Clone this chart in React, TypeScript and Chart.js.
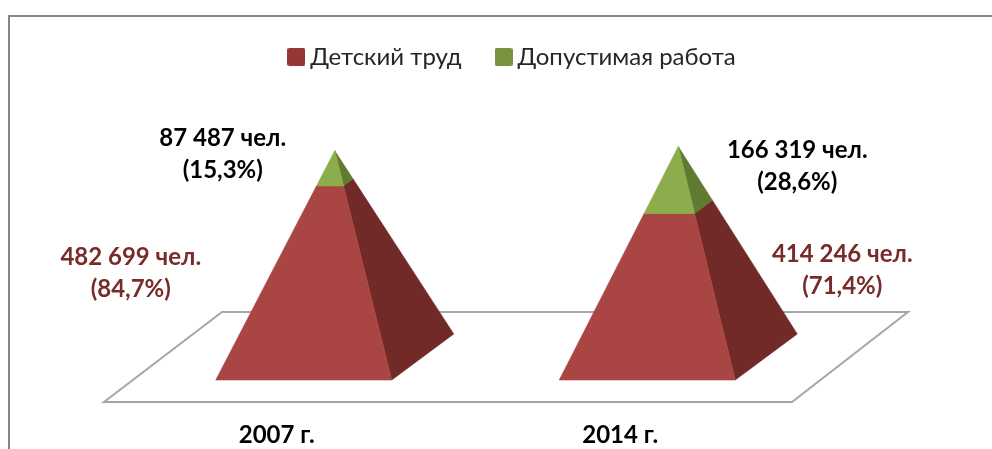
import React, { useEffect, useRef } from "react";
import { Chart, registerables } from "chart.js";

Chart.register(...registerables);

const categories = ["2007 г.", "2014 г."];
const childLabour = [482699, 414246];
const permittedWork = [87487, 166319];
const childLabourShare = ["84,7%", "71,4%"];
const permittedWorkShare = ["15,3%", "28,6%"];
const seriesNames = ["Детский труд", "Допустимая работа"];

const FONT = "Lato, 'Open Sans', sans-serif";
const legendColors = ["#953735", "#77933C"];
const frontColors = ["#A94543", "#8BAD4C"];
const sideColors = ["#722A28", "#5F7A31"];
const labelColors = ["#772C2A", "#000000"];
const fmt = (n: number) => String(n).replace(/\B(?=(\d{3})+$)/g, " ") + " чел.";

// label centres relative to the category centre and the top of the stack
const labelOffsets = [
  [[-146, 107], [-54, -12]],
  [[222, 108], [177, 4]],
];

const swatch = (color: string) => {
  const c = document.createElement("canvas");
  c.width = 18;
  c.height = 18;
  const g = c.getContext("2d")!;
  g.fillStyle = color;
  g.beginPath();
  g.roundRect(0, 0, 18, 18, 2);
  g.fill();
  return c;
};

const pyramidPlugin = {
  id: "pyramids",
  beforeDraw(chart: any) {
    const { ctx } = chart;
    ctx.save();
    ctx.strokeStyle = "#868686";
    ctx.lineWidth = 2;
    ctx.beginPath();
    ctx.moveTo(9, chart.height);
    ctx.lineTo(9, 16);
    ctx.lineTo(chart.width, 16);
    ctx.stroke();
    ctx.restore();
  },
  beforeDatasetsDraw(chart: any) {
    const { ctx, chartArea: a } = chart;
    ctx.save();
    ctx.strokeStyle = "#A6A6A6";
    ctx.lineWidth = 2;
    ctx.lineJoin = "miter";
    ctx.beginPath();
    ctx.moveTo(a.left - 1, a.bottom + 22);
    ctx.lineTo(a.right, a.bottom + 22);
    ctx.lineTo(a.right + 116, a.bottom - 68);
    ctx.lineTo(a.left + 117, a.bottom - 68);
    ctx.closePath();
    ctx.stroke();
    ctx.restore();
  },
  beforeDatasetDraw() {
    return false;
  },
  afterDatasetsDraw(chart: any) {
    const { ctx, scales } = chart;
    const { x: xs, y: ys } = scales;
    const y0 = ys.getPixelForValue(0);
    const sets = chart.data.datasets;
    categories.forEach((_, i) => {
      const cx = xs.getPixelForValue(i);
      const total = sets.reduce((s: number, d: any) => s + d.data[i], 0);
      const apex = { x: cx + 58, y: ys.getPixelForValue(total) };
      const bl = { x: cx - 61, y: y0 };
      const br = { x: cx + 115, y: y0 };
      const bk = { x: cx + 177, y: y0 - 46 };
      const at = (p: any, t: number) => ({
        x: p.x + (apex.x - p.x) * t,
        y: p.y + (apex.y - p.y) * t,
      });
      const poly = (pts: any[], color: string) => {
        ctx.fillStyle = color;
        ctx.strokeStyle = color;
        ctx.lineWidth = 0.6;
        ctx.beginPath();
        pts.forEach((p, k) => (k ? ctx.lineTo(p.x, p.y) : ctx.moveTo(p.x, p.y)));
        ctx.closePath();
        ctx.fill();
        ctx.stroke();
      };
      let acc = 0;
      sets.forEach((d: any, s: number) => {
        const t0 = acc / total;
        acc += d.data[i];
        const t1 = acc / total;
        poly([at(br, t0), at(bk, t0), at(bk, t1), at(br, t1)], sideColors[s]);
        poly([at(bl, t0), at(br, t0), at(br, t1), at(bl, t1)], frontColors[s]);
      });
      const shares = [childLabourShare, permittedWorkShare];
      sets.forEach((d: any, s: number) => {
        const [ox, oy] = labelOffsets[i][s];
        const lx = cx + ox;
        const ly = apex.y + oy;
        ctx.fillStyle = labelColors[s];
        ctx.font = `bold 24px ${FONT}`;
        ctx.textAlign = "center";
        ctx.textBaseline = "middle";
        ctx.fillText(fmt(d.data[i]), lx, ly);
        ctx.fillText(`(${shares[s][i]})`, lx, ly + 32);
      });
    });
  },
};

export default function App() {
  const ref = useRef<HTMLCanvasElement>(null);
  useEffect(() => {
    const chart = new Chart(ref.current!, {
      type: "bar",
      data: {
        labels: categories,
        datasets: [
          { label: seriesNames[0], data: childLabour, backgroundColor: legendColors[0], stack: "a" },
          { label: seriesNames[1], data: permittedWork, backgroundColor: legendColors[1], stack: "a" },
        ],
      },
      options: {
        animation: false,
        responsive: false,
        layout: { padding: { top: 5, left: 38, right: 0, bottom: 0 } },
        plugins: {
          tooltip: { enabled: false },
          legend: {
            position: "top",
            labels: {
              usePointStyle: true,
              pointStyleWidth: 4,
              boxHeight: 18,
              padding: 40,
              color: "#262626",
              font: { family: FONT, size: 24 },
              generateLabels: (c: any) =>
                (Chart.defaults.plugins.legend.labels as any).generateLabels(c).map((l: any) => ({
                  ...l,
                  pointStyle: swatch(l.fillStyle),
                })),
            },
          },
        },
        scales: {
          x: {
            stacked: true,
            grid: { display: false, drawTicks: false },
            border: { display: false },
            ticks: {
              color: "#000000",
              padding: 41,
              maxRotation: 0,
              font: { family: FONT, size: 24, weight: "bold" },
            },
            afterFit: (s: any) => { s.height = 69; },
          },
          y: {
            stacked: true,
            min: 0,
            max: 748500,
            grid: { display: false },
            border: { display: false },
            ticks: { display: false },
            afterFit: (s: any) => { s.width = 67; },
          },
          yRight: {
            position: "right",
            grid: { display: false },
            border: { display: false },
            ticks: { display: false },
            afterFit: (s: any) => { s.width = 200; },
          },
        },
      },
      plugins: [pyramidPlugin],
    } as any);
    return () => chart.destroy();
  }, []);
  return (
    <div style={{ position: "absolute", left: 0, top: 0, width: 992, height: 449 }}>
      <canvas ref={ref} width={992} height={449} style={{ display: "block" }} />
    </div>
  );
}
